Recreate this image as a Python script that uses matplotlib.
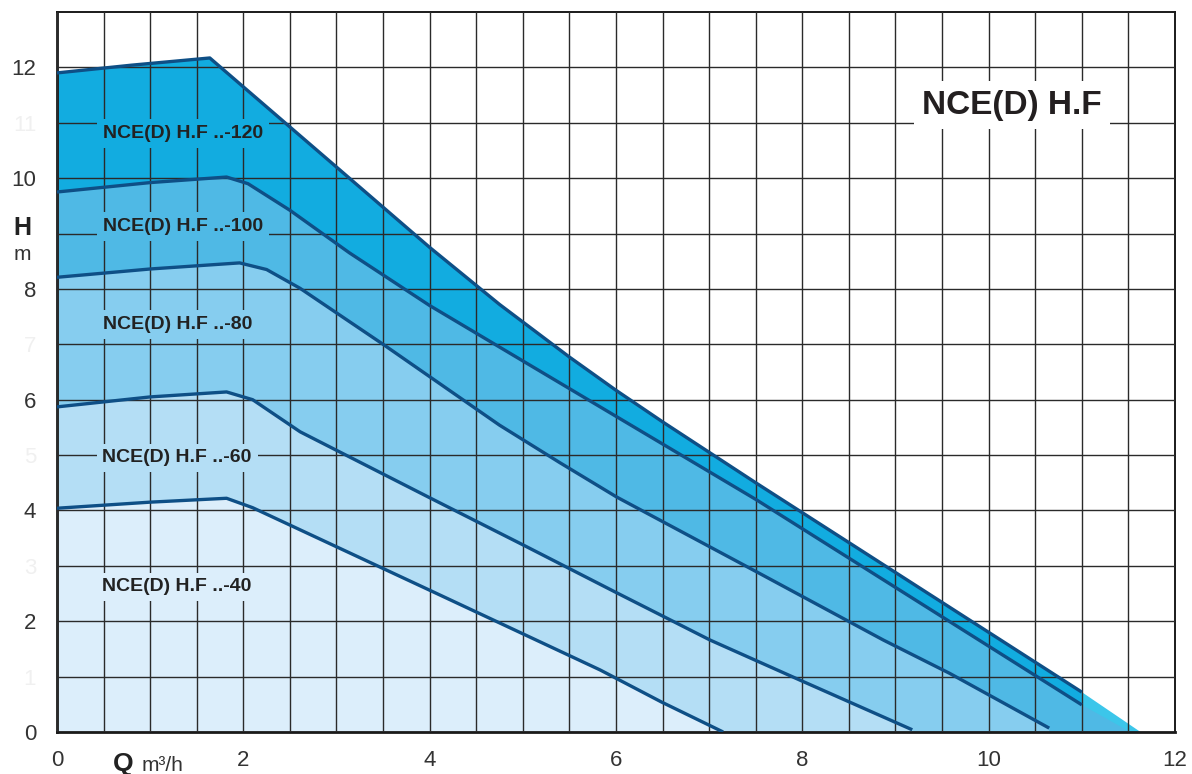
import matplotlib.pyplot as plt
from matplotlib.patches import Polygon

# pump curves: flow Q (m3/h) and head H (m)
q_120 = [0, 0.8, 1.64, 3.0, 4.0, 4.75, 5.5, 6.0, 6.5, 7.5, 11.0]
h_120 = [11.90, 12.04, 12.17, 10.20, 8.75, 7.72, 6.77, 6.17, 5.60, 4.50, 0.72]

q_100 = [0, 1.0, 1.82, 2.05, 2.5, 3.14, 4.0, 4.75, 5.5, 6.5, 7.5, 11.0]
h_100 = [9.75, 9.92, 10.02, 9.90, 9.42, 8.65, 7.70, 6.95, 6.20, 5.20, 4.20, 0.49]

q_80 = [0, 1.0, 1.96, 2.25, 2.61, 3.5, 4.75, 5.4, 6.01, 7.5, 8.87, 9.58, 10.65]
h_80 = [8.21, 8.36, 8.47, 8.35, 8.01, 7.00, 5.54, 4.86, 4.24, 2.90, 1.66, 1.06, 0.07]

q_60 = [0, 1.0, 1.82, 2.1, 2.61, 4.0, 5.0, 6.0, 7.01, 7.97, 9.18]
h_60 = [5.87, 6.05, 6.14, 6.00, 5.42, 4.23, 3.38, 2.52, 1.66, 0.94, 0.04]

q_40 = [0, 1.0, 1.82, 2.1, 2.61, 4.0, 5.83, 6.49, 7.15]
h_40 = [4.04, 4.15, 4.22, 4.05, 3.65, 2.56, 1.12, 0.54, 0.0]

# where the outer envelope and the -100 area reach H = 0
q_envelope_end = 11.63
q_100_fill_end = 11.52

labels = ["NCE(D) H.F ..-120", "NCE(D) H.F ..-100", "NCE(D) H.F ..-80",
          "NCE(D) H.F ..-60", "NCE(D) H.F ..-40"]
label_q = [1.35, 1.35, 1.30, 1.29, 1.28]
label_h = [10.81, 9.13, 7.36, 4.95, 2.62]

x_ticks = [0, 2, 4, 6, 8, 10, 12]
y_ticks = list(range(0, 13))
# odd values are printed almost white; the 9 sits under the "H"
y_tick_labels = ["0", "1", "2", "3", "4", "5", "6", "7", "8", "", "10", "11", "12"]

LINE_COLOR = "#0e4f86"
GRID_COLOR = "#2a2a2a"
BAND_COLORS = ["#12ace0", "#4fb9e5", "#86cdef", "#b4def5", "#dceefb"]
EXT_COLOR = "#3cc6ea"
NARROW = ["Liberation Sans Narrow", "Liberation Sans", "DejaVu Sans"]
WIDE = ["Liberation Sans", "DejaVu Sans"]

fig = plt.figure(figsize=(11.92, 7.74), dpi=100)
ax = fig.add_axes([57 / 1192, 42 / 774, 1118 / 1192, 720 / 774])
ax.set_xlim(0, 12)
ax.set_ylim(0, 13)

# envelope (light cyan tail past the end of the -120 line)
env = list(zip(q_120, h_120)) + [(q_envelope_end, 0), (0, 0)]
ax.add_patch(Polygon(env, closed=True, facecolor=EXT_COLOR, edgecolor="none", zorder=1))

# -120 band: between -120 and -100 curves
band = list(zip(q_120, h_120)) + list(zip(q_100, h_100))[::-1]
ax.add_patch(Polygon(band, closed=True, facecolor=BAND_COLORS[0], edgecolor="none", zorder=1.1))

# -100 area down to zero
area = list(zip(q_100, h_100)) + [(q_100_fill_end, 0), (0, 0)]
ax.add_patch(Polygon(area, closed=True, facecolor=BAND_COLORS[1], edgecolor="none", zorder=1.2))

curves = [(q_120, h_120), (q_100, h_100), (q_80, h_80), (q_60, h_60), (q_40, h_40)]
for i, (q, h) in enumerate(curves[2:], start=2):
    pts = list(zip(q, h)) + [(q[-1], 0), (0, 0)]
    ax.add_patch(Polygon(pts, closed=True, facecolor=BAND_COLORS[i],
                         edgecolor="none", zorder=1 + 0.1 * i))

for q, h in curves:
    ax.plot(q, h, color=LINE_COLOR, lw=2.4, solid_capstyle="butt",
            solid_joinstyle="round", zorder=3)

# grid: every 0.5 on Q, every 1 on H
ax.set_xticks(x_ticks)
ax.set_xticks([i * 0.5 for i in range(25)], minor=True)
ax.set_yticks(y_ticks)
ax.grid(True, which="both", color=GRID_COLOR, lw=1.0)
ax.set_axisbelow(False)
ax.tick_params(which="both", length=0)
ax.tick_params(axis="x", pad=13, labelsize=16, labelcolor="#333333")
ax.tick_params(axis="y", pad=15, labelsize=16, labelcolor="#333333")
ax.set_yticklabels(y_tick_labels)
for v, lab in zip(y_ticks, ax.get_yticklabels()):
    if v % 2:
        lab.set_color("#f0f0f0")
    lab.set_fontfamily(WIDE)
for lab in ax.get_xticklabels():
    lab.set_fontfamily(WIDE)

for side in ["left", "bottom"]:
    ax.spines[side].set_linewidth(2.0)
    ax.spines[side].set_color("#1a1a1a")
for side in ["top", "right"]:
    ax.spines[side].set_linewidth(1.4)
    ax.spines[side].set_color("#1a1a1a")

# curve labels on boxes that hide the grid
for text, q, h, c in zip(labels, label_q, label_h, BAND_COLORS):
    ax.text(q, h, text, ha="center", va="center", fontsize=14, fontweight="bold",
            family=NARROW, color="#222222", zorder=4,
            bbox=dict(boxstyle="square,pad=0.3", facecolor=c, edgecolor="none"))

ax.text(10.25, 11.32, "NCE(D) H.F", ha="center", va="center", fontsize=24,
        fontweight="bold", family=WIDE, color="#231f20", zorder=4,
        bbox=dict(boxstyle="square,pad=0.25", facecolor="white", edgecolor="none"))

# axis names
ax.text(-0.376, 9.10, "H", ha="center", va="center", fontsize=18, fontweight="bold",
        family=WIDE, color="#222222", clip_on=False)
ax.text(-0.376, 8.62, "m", ha="center", va="center", fontsize=15,
        family=WIDE, color="#333333", clip_on=False)
ax.text(0.71, -0.58, "Q", ha="center", va="center", fontsize=19, fontweight="bold",
        family=WIDE, color="#222222", clip_on=False)
ax.text(0.91, -0.60, "m³/h", ha="left", va="center", fontsize=15,
        family=WIDE, color="#333333", clip_on=False)

fig.savefig("out.png", dpi=100)
